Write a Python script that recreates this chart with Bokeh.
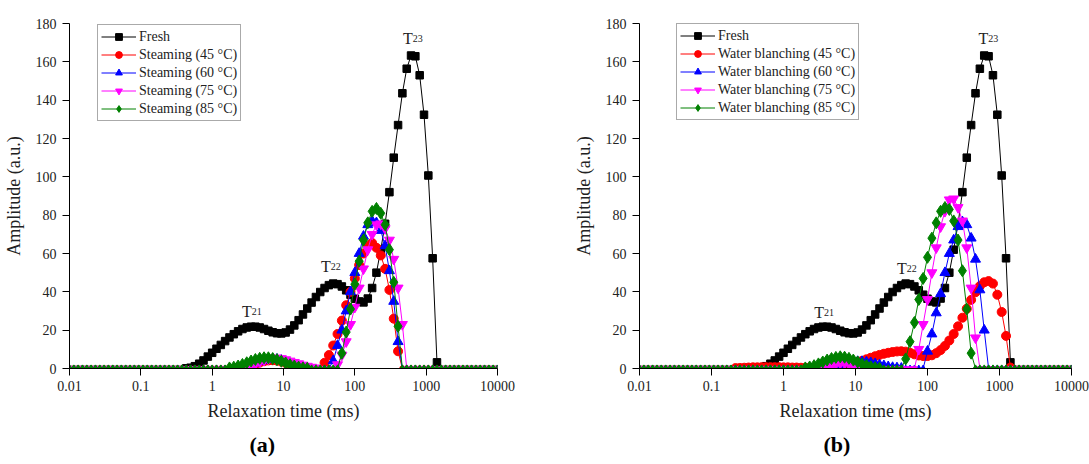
import numpy as np
from bokeh.plotting import figure
from bokeh.layouts import row
from bokeh.models import (ColumnDataSource, FixedTicker, CustomJSTickFormatter,
                          Legend, LegendItem, Label, Range1d, Title)
from bokeh.embed import file_html
from bokeh.resources import INLINE

# ---------------- data ----------------
# T2 inversion grid (ms): 100 log-spaced relaxation times from 0.01 to 10000 ms
relaxation_time = np.logspace(-2, 4, 100)

x_tick_values = [0.01, 0.1, 1, 10, 100, 1000, 10000]
x_tick_labels = ["0.01", "0.1", "1", "10", "100", "1000", "10000"]
y_tick_values = [0, 20, 40, 60, 80, 100, 120, 140, 160, 180]

# each series: index of first listed point on the grid, then amplitudes (zero elsewhere)
fresh_start = 27
fresh = [0.1, 0.4, 1.2, 2.5, 4.2, 6.2, 8.2, 10.3, 12.3,
         14.3, 16.2, 17.9, 19.4, 20.6, 21.4, 21.8, 21.8, 21.4, 20.6,
         19.7, 18.9, 18.4, 18.3, 18.8, 20.3, 22.5, 25.2, 28.2, 31.3,
         34.4, 37.3, 39.9, 42.0, 43.5, 44.3, 44.0, 42.8, 40.8, 38.5,
         36.4, 35.0, 34.5, 36.5, 42.0, 50.0, 62.0, 75.5, 92.0, 110.0,
         127.0, 143.6, 156.4, 163.3, 162.9, 153.0, 132.4, 100.7, 57.5, 3.2]

# (a) steaming
steam45_start = 40
steam45 = [0.3, 0.8, 1.5, 2.3, 3.1, 3.8, 4.2, 4.3, 4.1, 3.6, 2.9, 2.1, 1.4, 0.8, 0.4, 0.1,
           0, 0, 0,
           3, 7, 12, 18, 25, 33, 40, 47, 54, 60, 64, 65.5, 63, 59, 52, 41, 26, 9]
steam60_start = 40
steam60 = [0.4, 1.0, 1.8, 2.7, 3.6, 4.3, 4.8, 5.0, 4.8, 4.3, 3.5, 2.6, 1.7, 1.0, 0.5, 0.2,
           0, 0, 0, 0, 0,
           4, 12, 20, 30, 40, 50, 60, 69, 75, 77, 76, 72, 64, 51, 35, 14]
steam75_start = 40
steam75 = [0.3, 0.8, 1.5, 2.4, 3.4, 4.3, 5.0, 5.4, 5.5, 5.2, 4.6, 3.9, 3.2, 2.5, 1.8, 1.2, 0.7, 0.3,
           0, 0, 0, 0,
           2, 7, 14, 23, 32, 42, 52, 62, 70, 75, 75.5, 73, 67, 57, 42, 23]
steam85_start = 37
steam85 = [0.3, 0.7, 1.3, 2.1, 3.0, 3.9, 4.7, 5.3, 5.6, 5.6, 5.2, 4.6, 3.8, 2.9, 2.0, 1.3, 0.7, 0.3, 0.1,
           0, 0, 0, 0, 0, 0, 0,
           8, 19, 31, 44, 56, 67, 76, 82, 83.5, 81, 75, 62, 45, 22]

# (b) water blanching
water45_start = 22
water45 = [0.2, 0.3, 0.4, 0.5, 0.6, 0.6, 0.7, 0.7, 0.7, 0.7,
           0.7, 0.6, 0.6, 0.5, 0.5, 0.4, 0.4, 0.3, 0.3, 0.4,
           0.5, 0.6, 0.7, 0.8, 1.1, 1.5, 2.0, 2.6, 3.3, 4.0,
           4.8, 5.6, 6.4, 7.1, 7.7, 8.2, 8.6, 8.9, 9.0, 8.8,
           8.2, 7.4, 6.8, 6.5, 6.5, 6.9, 8.0, 9.6, 11.8, 14.6,
           18.0, 22.0, 26.5, 31.2, 35.8, 39.8, 43.0, 45.0, 45.6, 44.3,
           38.5, 29.5, 17.0, 0.5]
water60_start = 44
water60 = [0.5, 1.0, 1.7, 2.4, 3.0, 3.4, 3.6, 3.6, 3.4, 3.0, 2.5, 1.9, 1.4, 0.9, 0.5, 0.3, 0.1,
           0, 0, 0, 0, 0,
           9, 18, 29, 39, 50, 60, 67, 74, 76.5, 75, 68, 57, 41, 20]
water75_start = 42
water75 = [0.3, 0.9, 1.7, 2.4, 2.8, 2.8, 2.4, 1.7, 1.0, 0.4,
           0, 0, 0, 0, 0, 0, 0, 0, 0, 0, 0, 0,
           10, 23, 36, 50, 63, 74, 82, 88, 88.5, 84, 77, 63, 42, 16]
water85_start = 38
water85 = [0.3, 0.8, 1.5, 2.4, 3.4, 4.4, 5.2, 5.8, 6.1, 5.9, 5.3, 4.4, 3.4, 2.4, 1.6, 0.9, 0.4, 0.1,
           0, 0, 0, 0, 0,
           5, 14, 24, 36, 47, 58, 68, 76, 82, 84, 83, 77, 67, 51, 31, 8]

steam_names = ["Fresh", "Steaming (45 \u00b0C)", "Steaming (60 \u00b0C)",
               "Steaming (75 \u00b0C)", "Steaming (85 \u00b0C)"]
water_names = ["Fresh", "Water blanching (45 \u00b0C)", "Water blanching (60 \u00b0C)",
               "Water blanching (75 \u00b0C)", "Water blanching (85 \u00b0C)"]


def on_grid(start, vals):
    arr = np.zeros(len(relaxation_time))
    arr[start:start + len(vals)] = vals
    return arr


series_a = [on_grid(fresh_start, fresh), on_grid(steam45_start, steam45),
            on_grid(steam60_start, steam60), on_grid(steam75_start, steam75),
            on_grid(steam85_start, steam85)]
series_b = [on_grid(fresh_start, fresh), on_grid(water45_start, water45),
            on_grid(water60_start, water60), on_grid(water75_start, water75),
            on_grid(water85_start, water85)]

# ---------------- style ----------------
SERIF = "Liberation Serif"
TXT = "#222222"
markers = ["square", "circle", "triangle", "inverted_triangle", "diamond"]
colors = ["#000000", "#ff0000", "#0000ff", "#ff00ff", "#008000"]
msizes = [7.5, 9, 10, 10, 12]


def make_panel(width, bl, br, series, names, legend_loc, letter, letter_off, tpos):
    p = figure(width=width, height=464, x_axis_type="log",
               x_range=Range1d(0.01, 10000), y_range=Range1d(0, 180),
               output_backend="svg", toolbar_location=None,
               min_border_left=bl, min_border_right=br,
               min_border_top=23, min_border_bottom=96)
    p.outline_line_color = None
    p.grid.visible = False

    xa, ya = p.xaxis[0], p.yaxis[0]
    xa.ticker = FixedTicker(ticks=x_tick_values)
    xa.formatter = CustomJSTickFormatter(
        args=dict(vals=x_tick_values, labs=x_tick_labels),
        code="""
        for (let i = 0; i < vals.length; i++) {
            if (Math.abs(Math.log10(vals[i]) - Math.log10(tick)) < 1e-6) return labs[i];
        }
        return '';
        """)
    ya.ticker = FixedTicker(ticks=y_tick_values)
    xa.axis_label = "Relaxation time (ms)"
    ya.axis_label = "Amplitude (a.u.)"
    for ax in (xa, ya):
        ax.axis_line_color = "black"
        ax.axis_line_width = 1
        ax.major_tick_line_color = "black"
        ax.major_tick_in = 0
        ax.major_tick_out = 7
        ax.minor_tick_line_color = None
        ax.major_label_text_font = SERIF
        ax.major_label_text_font_size = "14px"
        ax.major_label_text_color = TXT
        ax.axis_label_text_font = SERIF
        ax.axis_label_text_font_size = "18px"
        ax.axis_label_text_font_style = "normal"
        ax.axis_label_text_color = TXT
    xa.major_label_standoff = 5
    xa.axis_label_standoff = 7
    ya.major_label_standoff = 6
    ya.axis_label_standoff = 9

    items = []
    for y, name, mk, c, s in zip(series, names, markers, colors, msizes):
        size_col = np.where(y > 0.05, s, s * 0.6)
        src = ColumnDataSource(dict(x=relaxation_time, y=y, s=size_col))
        ln = p.line("x", "y", source=src, line_color=c, line_width=1)
        sc = p.scatter("x", "y", source=src, marker=mk, size="s",
                       fill_color=c, line_color=c)
        items.append(LegendItem(label=name, renderers=[ln, sc]))

    leg = Legend(items=items, location=legend_loc,
                 border_line_color="#555555", border_line_width=1,
                 background_fill_color="white", background_fill_alpha=1,
                 label_text_font=SERIF, label_text_font_size="14px",
                 label_text_color=TXT,
                 glyph_width=35, glyph_height=17, label_height=17,
                 spacing=1, padding=3, margin=0, label_standoff=3)
    p.add_layout(leg)

    for (tx, ty, sub) in tpos:
        p.add_layout(Label(x=tx, y=ty, text="T", text_font=SERIF,
                           text_font_size="16px", text_color=TXT,
                           text_align="right", text_baseline="alphabetic"))
        p.add_layout(Label(x=tx, y=ty, text=sub, text_font=SERIF,
                           text_font_size="10px", text_color=TXT,
                           text_align="left", text_baseline="alphabetic"))

    p.add_layout(Title(text=letter, align="left", offset=letter_off,
                       text_font=SERIF, text_font_size="22px",
                       text_font_style="bold", text_color="black",
                       standoff=13), "below")
    return p


pa = make_panel(540, 67, 43, series_a, steam_names, (28, 247), "(a)", 180,
                [(3.6, 30.0, "21"), (45.9, 53.0, "22"), (650, 172.0, "23")])
pb = make_panel(549, 99, 18, series_b, water_names, (37, 248), "(b)", 184,
                [(3.66, 29.0, "21"), (51.6, 52.0, "22"), (700, 172.0, "23")])

layout = row(pa, pb)
open("out.html", "w").write(file_html(layout, INLINE))
